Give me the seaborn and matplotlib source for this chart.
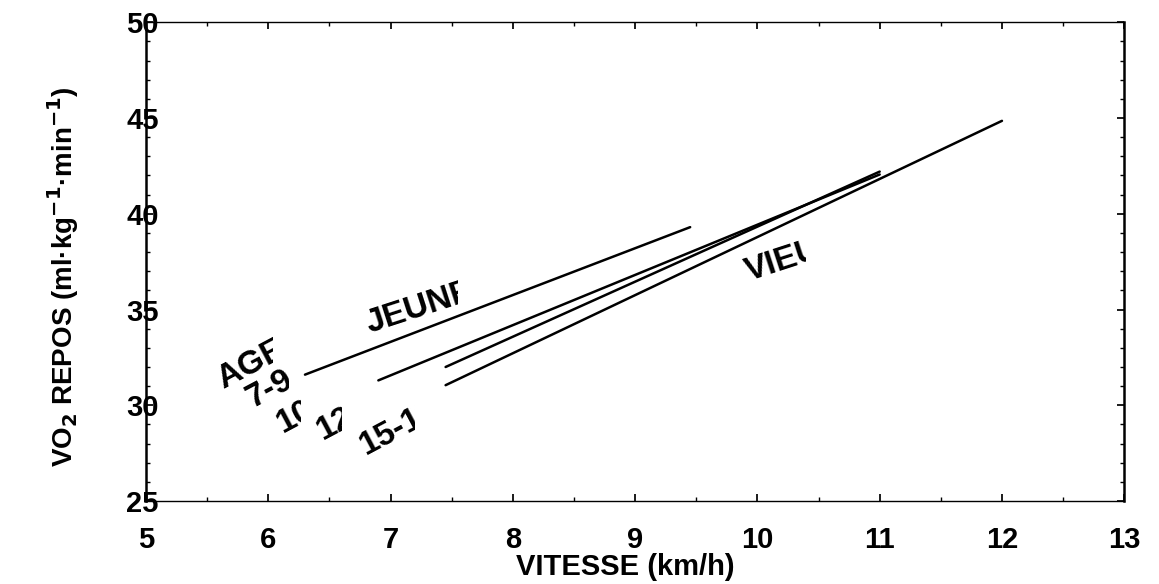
""" VO2 de repos en fonction de la vitesse, par groupe d'age """

import matplotlib.pyplot as plt
import pandas as pd
import seaborn as sns
from matplotlib.patches import Rectangle

# data (start / end of each regression line)
groups = ["7-9", "10-11", "12-14", "15-18"]
x_start = [6.3, 6.9, 7.45, 7.45]
x_end = [9.45, 11.0, 11.0, 12.0]
y_start = [31.6, 31.3, 32.0, 31.05]
y_end = [39.3, 42.05, 42.2, 44.85]

# labels written in the plot: text, x, y, rotation, right clip in data units
label_texts = ["AGE", "7-9", "10-11", "12-14", "15-18", "JEUNES", "VIEUX"]
label_x = [5.63, 5.87, 6.12, 6.45, 6.8, 6.83, 9.93]
label_y = [30.85, 29.85, 28.55, 28.2, 27.4, 33.8, 36.5]
label_rot = [28, 28, 28, 28, 28, 18, 18]
label_clip = [6.04, 6.17, 6.27, 6.6, 7.2, 7.55, 10.4]

x_ticks = [5, 6, 7, 8, 9, 10, 11, 12, 13]
y_ticks = [25, 30, 35, 40, 45, 50]

rows = []
for g, xs, xe, ys, ye in zip(groups, x_start, x_end, y_start, y_end):
    rows.append({"age": g, "vitesse": xs, "vo2": ys})
    rows.append({"age": g, "vitesse": xe, "vo2": ye})
df = pd.DataFrame(rows)

sns.set_theme(style="ticks")
plt.rcParams["font.family"] = ["Liberation Sans", "DejaVu Sans"]
plt.rcParams["font.weight"] = "bold"
for key in ["text.color", "axes.labelcolor", "xtick.color", "ytick.color",
            "axes.edgecolor"]:
    plt.rcParams[key] = "black"

fig = plt.figure(figsize=(11.59, 5.84), dpi=100)
ax = fig.add_axes([0.126, 0.142, 0.844, 0.820])

sns.lineplot(data=df, x="vitesse", y="vo2", hue="age",
             palette=["black"] * len(groups), linewidth=1.8,
             legend=False, ax=ax)

ax.set_xlim(5, 13)
ax.set_ylim(25, 50)
ax.set_xticks(x_ticks)
ax.set_yticks(y_ticks)
ax.set_xticks([v + 0.5 for v in x_ticks[:-1]], minor=True)
ax.set_yticks(range(26, 50), minor=True)

for side in ["top", "right", "bottom", "left"]:
    ax.spines[side].set_visible(True)
    ax.spines[side].set_color("black")
    ax.spines[side].set_linewidth(1.0)
ax.spines["left"].set_linewidth(1.8)
ax.spines["right"].set_linewidth(1.8)

ax.tick_params(which="both", direction="in", top=True, right=True, color="black")
ax.tick_params(which="major", length=5)
ax.tick_params(which="minor", length=3)
ax.tick_params(axis="x", which="major", pad=18, labelsize=21)
ax.tick_params(axis="y", which="major", pad=-9, labelsize=21)
for lab in ax.get_xticklabels() + ax.get_yticklabels():
    lab.set_fontweight("bold")

ax.set_xlabel("VITESSE (km/h)", fontsize=21, fontweight="bold")
ax.xaxis.set_label_coords(0.49, -0.108)
ax.set_ylabel("VO$_2$ REPOS (ml·kg$^{-1}$·min$^{-1}$)", fontsize=20,
              fontweight="bold")
ax.yaxis.set_label_coords(-0.066, 0.468)

# rotated labels, cut on the right like in the original
for txt, lx, ly, rot, cx in zip(label_texts, label_x, label_y, label_rot, label_clip):
    t = ax.text(lx, ly, txt, rotation=rot, rotation_mode="anchor",
                ha="left", va="baseline", fontsize=24, fontweight="bold",
                color="black", clip_on=True)
    clip = Rectangle((5, 25), cx - 5, 25, transform=ax.transData)
    t.set_clip_path(clip)

plt.savefig("out.png", dpi=100)
